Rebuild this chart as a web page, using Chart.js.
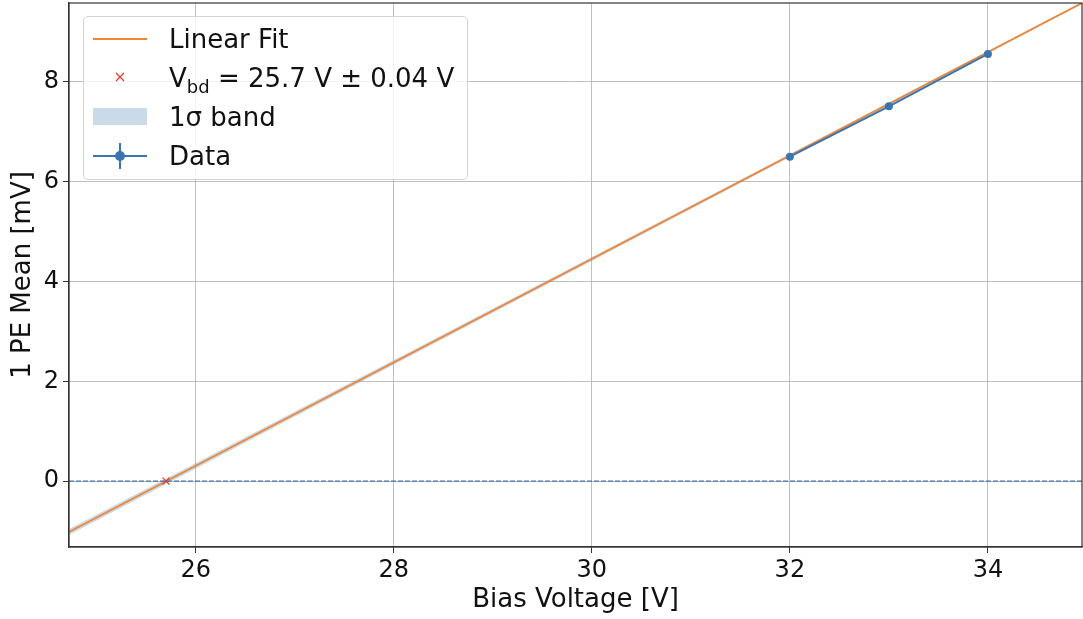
<!DOCTYPE html>
<html>
<head>
<meta charset="utf-8">
<script src="https://cdn.jsdelivr.net/npm/chart.js@4.4.1/dist/chart.umd.min.js"></script>
<style>
  body { margin: 0; background: #fff; }
  #wrap { position: relative; width: 1083px; height: 619px; }
  #legend { position: absolute; left: 83px; top: 16px; width: 385px; height: 164px;
    border: 1px solid #d3d3d3; border-radius: 5px; background: rgba(255,255,255,0.8);
    font-family: 'DejaVu Sans', sans-serif; font-size: 26px; color: #111; box-sizing: border-box; }
  .txt { position: absolute; left: 85px; line-height: 30px; height: 30px; white-space: nowrap; }
  .txt sub { font-size: 18px; vertical-align: -6px; line-height: 0; }
  .h { position: absolute; line-height: 0; font-size: 0; }
  .h svg { display: block; }
</style>
</head>
<body>
<div id="wrap">
  <canvas id="c" width="1083" height="619"></canvas>
  <div id="legend">
    <div class="h" style="left:9px;top:21px;width:54px;height:2px;background:#ef8636"></div>
    <div class="txt" style="top:7px">Linear Fit</div>
    <div class="h" style="left:31px;top:55px;width:10px;height:10px;">
      <svg width="10" height="10"><path d="M1 1 L9 9 M9 1 L1 9" stroke="#e03b2e" stroke-width="1.3"/></svg>
    </div>
    <div class="txt" style="top:46px">V<sub>bd</sub> = 25.7 V ± 0.04 V</div>
    <div class="h" style="left:9px;top:91px;width:54px;height:17px;background:rgba(59,117,175,0.27)"></div>
    <div class="txt" style="top:85px">1σ band</div>
    <div class="h" style="left:9px;top:138px;width:54px;height:2px;background:#3b75af"></div>
    <div class="h" style="left:35px;top:126px;width:2px;height:26px;background:#3b75af"></div>
    <div class="h" style="left:31px;top:134px;width:10px;height:10px;border-radius:50%;background:#3b75af"></div>
    <div class="txt" style="top:124px">Data</div>
  </div>
</div>
<script>
// ---- data ----
const biasVoltage = [32, 33, 34];
const peMean = [6.50, 7.51, 8.56];
const fitX = [24.72, 34.95];
const fitY = [-1.02, 9.58];
const bandUpper = [-0.96, 9.60];
const bandLower = [-1.08, 9.56];
const vbdX = [25.7];
const vbdY = [0];
const zeroX = [24.72, 34.95];
const zeroY = [0, 0];
const xTicks = [26, 28, 30, 32, 34];
const yTicks = [0, 2, 4, 6, 8];
const xRange = [24.72, 34.95];
const yRange = [-1.32, 9.58];

const pts = (xs, ys) => xs.map((x, i) => ({ x, y: ys[i] }));
const BLUE = '#3b75af', ORANGE = '#ef8636', RED = '#e03b2e';
const TICKFONT = { family: "'DejaVu Sans', sans-serif", size: 24 };
const TITLEFONT = { family: "'DejaVu Sans', sans-serif", size: 26 };

const frame = {
  id: 'frame',
  afterDraw(chart) {
    const { ctx, chartArea: a } = chart;
    ctx.save();
    ctx.strokeStyle = '#333';
    ctx.lineWidth = 1.2;
    ctx.strokeRect(a.left, a.top, a.right - a.left, a.bottom - a.top);
    ctx.restore();
  }
};

new Chart(document.getElementById('c'), {
  type: 'line',
  data: {
    datasets: [
      { label: 'band_lower', data: pts(fitX, bandLower), borderWidth: 0, pointRadius: 0, fill: false, order: 6 },
      { label: '1σ band', data: pts(fitX, bandUpper), borderWidth: 0, pointRadius: 0,
        fill: '-1', backgroundColor: 'rgba(59,117,175,0.27)', order: 5 },
      { label: 'Linear Fit', data: pts(fitX, fitY), borderColor: ORANGE, borderWidth: 1.8, pointRadius: 0, order: 4 },
      { label: 'zero', data: pts(zeroX, zeroY), borderColor: BLUE, borderWidth: 1.2, borderDash: [5, 2], pointRadius: 0, order: 3 },
      { label: 'Data', data: pts(biasVoltage, peMean), borderColor: BLUE, backgroundColor: BLUE,
        borderWidth: 2, pointRadius: 4, pointBorderWidth: 0, order: 2 },
      { label: 'Vbd', data: pts(vbdX, vbdY), showLine: false, pointStyle: 'crossRot', pointRadius: 5,
        borderColor: RED, pointBorderWidth: 1.3, order: 1 }
    ]
  },
  options: {
    responsive: false,
    animation: false,
    layout: { autoPadding: false, padding: { top: 3, right: 1, left: 0, bottom: 0 } },
    plugins: { legend: { display: false }, tooltip: { enabled: false } },
    scales: {
      x: {
        type: 'linear', min: xRange[0], max: xRange[1],
        afterBuildTicks: s => { s.ticks = xTicks.map(v => ({ value: v })); },
        afterFit: s => { s.height = 72; s.paddingLeft = 0; s.paddingRight = 0; },
        grid: { color: 'rgba(176,176,176,0.8)', lineWidth: 1, tickLength: 6, tickColor: '#333', drawTicks: true },
        border: { color: '#333', width: 1.2 },
        ticks: { font: TICKFONT, color: '#111', padding: 3, maxRotation: 0 },
        title: { display: true, text: 'Bias Voltage [V]', font: TITLEFONT, color: '#111', padding: { top: 0, bottom: 3 } }
      },
      y: {
        type: 'linear', min: yRange[0], max: yRange[1],
        afterBuildTicks: s => { s.ticks = yTicks.map(v => ({ value: v })); },
        afterFit: s => { s.width = 69; s.paddingTop = 0; s.paddingBottom = 0; },
        grid: { color: 'rgba(176,176,176,0.8)', lineWidth: 1, tickLength: 6, tickColor: '#333', drawTicks: true },
        border: { color: '#333', width: 1.2 },
        ticks: { font: TICKFONT, color: '#111', padding: 4 },
        title: { display: true, text: '1 PE Mean [mV]', font: TITLEFONT, color: '#111', padding: { top: 8, bottom: 0 } }
      }
    }
  },
  plugins: [frame]
});
</script>
</body>
</html>
